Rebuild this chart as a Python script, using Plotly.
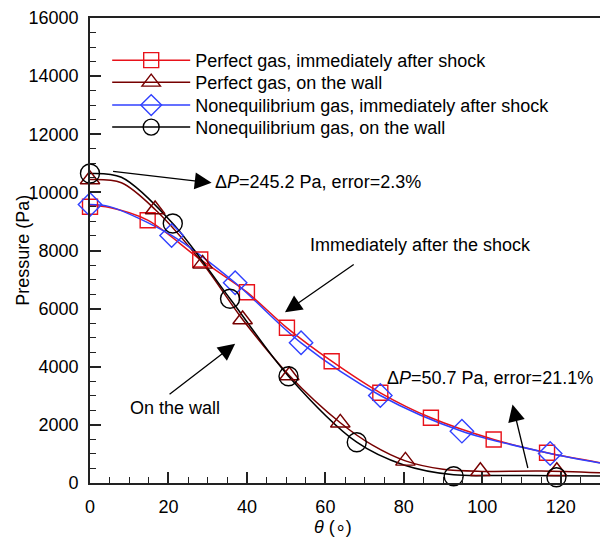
import plotly.graph_objects as go

# ---------------- data ----------------
# Perfect gas, immediately after shock
pg_shock_line_theta = [0, 5, 14.7, 28.1, 40.0, 50.2, 61.6, 74.0, 86.9, 102.9, 116.5, 130]
pg_shock_line_p = [9550, 9480, 9043, 7691, 6566, 5340, 4191, 3104, 2243, 1497, 1039, 700]
pg_shock_mark_theta = [0, 14.7, 28.1, 40.0, 50.2, 61.6, 74.0, 86.9, 102.9, 116.5]
pg_shock_mark_p = [9504, 9043, 7691, 6566, 5340, 4191, 3104, 2243, 1497, 1039]

# Perfect gas, on the wall
pg_wall_line_theta = [0, 8, 16.6, 28.7, 38.9, 50.8, 63.8, 72, 80.4, 90, 100, 115, 130]
pg_wall_line_p = [10440, 10330, 9411, 7560, 5626, 3699, 2072, 1300, 760, 470, 400, 410, 350]
pg_wall_mark_theta = [0, 16.6, 28.7, 38.9, 50.8, 63.8, 80.4, 99.5, 119]
pg_wall_mark_p = [10444, 9411, 7540, 5626, 3699, 2072, 760, 406, 406]

# Nonequilibrium gas, immediately after shock
ne_shock_line_theta = [0, 5, 20.8, 37.0, 53.8, 74.0, 94.8, 117.3, 130]
ne_shock_line_p = [9580, 9510, 8517, 6889, 4824, 3011, 1783, 1015, 690]
ne_shock_mark_theta = [0, 20.8, 37.0, 53.8, 74.0, 94.8, 117.3]
ne_shock_mark_p = [9583, 8517, 6889, 4824, 3011, 1783, 1015]

# Nonequilibrium gas, on the wall
ne_wall_line_theta = [0, 8, 21.1, 35.7, 50.6, 68, 80, 92.7, 105, 118.9, 130]
ne_wall_line_p = [10650, 10520, 8930, 6339, 3675, 1404, 620, 280, 260, 250, 240]
ne_wall_mark_theta = [0, 21.1, 35.7, 50.6, 68, 92.7, 118.9]
ne_wall_mark_p = [10650, 8930, 6339, 3675, 1404, 234, 200]

series_names = [
    "Perfect gas, immediately after shock",
    "Perfect gas, on the wall",
    "Nonequilibrium gas, immediately after shock",
    "Nonequilibrium gas, on the wall",
]

x_ticks = [0, 20, 40, 60, 80, 100, 120]
y_ticks = [0, 2000, 4000, 6000, 8000, 10000, 12000, 14000, 16000]

# ---------------- styling ----------------
FONT = "Liberation Sans, Arial, sans-serif"
RED = "#E8121A"
DARKRED = "#760000"
BLUE = "#3040FF"
BLACK = "#000000"

series = [
    (series_names[0], pg_shock_line_theta, pg_shock_line_p, pg_shock_mark_theta, pg_shock_mark_p, RED, "square-open", 15),
    (series_names[1], pg_wall_line_theta, pg_wall_line_p, pg_wall_mark_theta, pg_wall_mark_p, DARKRED, "triangle-up-open", 17),
    (series_names[2], ne_shock_line_theta, ne_shock_line_p, ne_shock_mark_theta, ne_shock_mark_p, BLUE, "diamond-open", 18),
    (series_names[3], ne_wall_line_theta, ne_wall_line_p, ne_wall_mark_theta, ne_wall_mark_p, BLACK, "circle-open", 19),
]
legend_ids = ["legend", "legend2", "legend3", "legend4"]
legend_tops = [0.9485, 0.9012, 0.8518, 0.8045]

fig = go.Figure()
for name, lt, lp, mt, mp, col, sym, sz in series:
    fig.add_trace(go.Scatter(
        x=lt, y=lp, mode="lines", line=dict(color=col, width=1.5, shape="spline", smoothing=0.9),
        showlegend=False, hoverinfo="skip", cliponaxis=True))
for name, lt, lp, mt, mp, col, sym, sz in series:
    fig.add_trace(go.Scatter(
        x=mt, y=mp, mode="markers",
        marker=dict(symbol=sym, size=sz, color=col, line=dict(color=col, width=1.4)),
        showlegend=False, cliponaxis=False))
for (name, lt, lp, mt, mp, col, sym, sz), lid in zip(series, legend_ids):
    fig.add_trace(go.Scatter(
        x=[None], y=[None], mode="lines+markers", name=name, legend=lid,
        line=dict(color=col, width=1.5),
        marker=dict(symbol=sym, size=sz, color=col, line=dict(color=col, width=1.4))))

TXT = dict(size=18, family=FONT, color="black")
arrow_common = dict(showarrow=True, arrowhead=2, arrowsize=2.6, arrowwidth=1.3,
                    arrowcolor="black", axref="x", ayref="y", text="")
annotations = [
    dict(x=31.0, y=10330, ax=5.5, ay=10730, **arrow_common),
    dict(x=49.7, y=5878, ax=67.6, ay=7553, **arrow_common),
    dict(x=37.0, y=4790, ax=19.9, ay=3011, **arrow_common),
    dict(x=107.7, y=2701, ax=111.7, ay=465, **arrow_common),
    dict(x=31.4, y=10340, text="Δ<i>P</i>=245.2 Pa, error=2.3%", showarrow=False,
         xanchor="left", yanchor="middle", font=TXT),
    dict(x=84.2, y=8206, text="Immediately after the shock", showarrow=False,
         xanchor="center", yanchor="middle", font=TXT),
    dict(x=21.7, y=2564, text="On the wall", showarrow=False,
         xanchor="center", yanchor="middle", font=TXT),
    dict(x=75.3, y=3630, text="Δ<i>P</i>=50.7 Pa, error=21.1%", showarrow=False,
         xanchor="left", yanchor="middle", font=TXT),
    # axis titles
    dict(xref="paper", yref="paper", x=0.4765, y=-0.0956, text="<i>θ</i> (∘)", showarrow=False,
         xanchor="center", yanchor="middle", font=TXT),
    dict(xref="paper", yref="paper", x=-0.133, y=0.5, text="Pressure (Pa)", showarrow=False,
         textangle=-90, xanchor="center", yanchor="middle", font=TXT),
]

axis_common = dict(showline=True, linecolor="#222", linewidth=1.8, ticks="inside",
                   ticklen=11, tickwidth=1.5, tickcolor="#222", showgrid=False, zeroline=False,
                   tickfont=TXT)

legend_common = dict(xanchor="left", yanchor="top", bgcolor="rgba(0,0,0,0)",
                     font=TXT, itemwidth=78, x=0.0337)

layout_legends = {}
for lid, top in zip(legend_ids, legend_tops):
    layout_legends[lid] = dict(y=top, **legend_common)

fig.update_layout(
    width=600, height=540,
    margin=dict(l=90, r=0, t=18, b=57),
    paper_bgcolor="white", plot_bgcolor="white",
    font=dict(family=FONT, size=18, color="black"),
    xaxis=dict(range=[0, 130], tickvals=x_ticks, ticktext=[str(v) for v in x_ticks], mirror=True,
               ticklabelstandoff=6,
               minor=dict(dtick=5, ticks="inside", ticklen=6.5, tickcolor="#222", tickwidth=1.3),
               **axis_common),
    yaxis=dict(range=[0, 16000], tickvals=y_ticks, ticktext=[str(v) for v in y_ticks], mirror=False,
               ticklabelstandoff=6,
               minor=dict(dtick=500, ticks="inside", ticklen=6.5, tickcolor="#222", tickwidth=1.3),
               **axis_common),
    annotations=annotations,
    **layout_legends,
)

fig.write_html("out.html")
